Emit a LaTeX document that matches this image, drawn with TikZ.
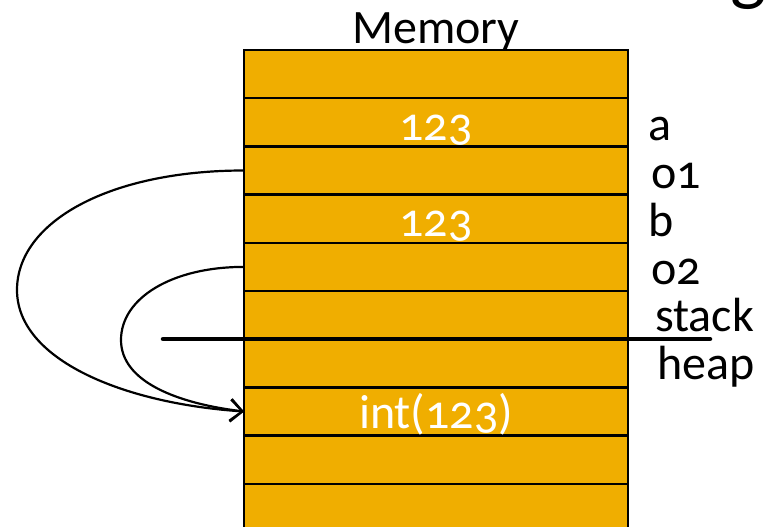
\documentclass[tikz,border=0pt]{standalone}
\usepackage{fontspec}
\setmainfont[Numbers=OldStyle]{Carlito}
\usetikzlibrary{arrows.meta}
\definecolor{memfill}{HTML}{F0AE00}
\begin{document}
\begin{tikzpicture}[x=1pt,y=-1pt,
  cell/.style={draw=black,line width=2.4pt,fill=memfill,minimum width=384pt,minimum height=48.2pt,inner sep=0pt,outer sep=0pt,anchor=north west},
  lbl/.style={anchor=base west,inner sep=0pt,font=\fontsize{48}{48}\selectfont},
  val/.style={anchor=base,inner sep=0pt,text=white,font=\fontsize{48}{48}\selectfont},
  ptr/.style={line width=2.2pt,-{Straight Barb[length=12pt,width=22pt,line width=2.2pt]}},
  sep/.style={line width=4.5pt,line cap=round}]
\useasboundingbox (0,0) rectangle (764,527);
\begin{scope}
\clip (0,0) rectangle (764,527);
\foreach \i in {1,...,10}{
  \node[cell] (r\i) at (244,{50+48.2*(\i-1)}) {};
}
\node[anchor=base,inner sep=0pt,font=\fontsize{76}{76}\selectfont] (g) at (748,-3) {g};
\end{scope}
\node[anchor=base,inner sep=0pt,font=\fontsize{48}{48}\selectfont] (title) at (436,44) {Memory};
\node[val] (v1) at (436,140) {123};
\node[val] (v2) at (436,236) {123};
\node[val] (v3) at (436,428) {int(123)};
\node[lbl] (la) at (648,140) {a};
\node[lbl] (lo1) at (651,188) {o1};
\node[lbl] (lb) at (648,236) {b};
\node[lbl] (lo2) at (651,284) {o2};
\node[lbl] (ls) at (655,331) {stack};
\node[lbl] (lh) at (657,379) {heap};
\coordinate (sL) at (163,339);
\coordinate (sR) at (710,339);
\draw[sep] (sL) -- (sR);
\coordinate (p1) at (17,290);
\coordinate (p2) at (121,340);
\draw[ptr] (r3.west) .. controls +(-135,0) and +(0,-68) .. (p1) .. controls +(0,70) and +(-120,-8) .. (r8.west);
\draw[ptr] (r5.west) .. controls +(-72,0) and +(0,-42) .. (p2) .. controls +(0,42) and +(-66,-8) .. (r8.west);
\end{tikzpicture}
\end{document}
